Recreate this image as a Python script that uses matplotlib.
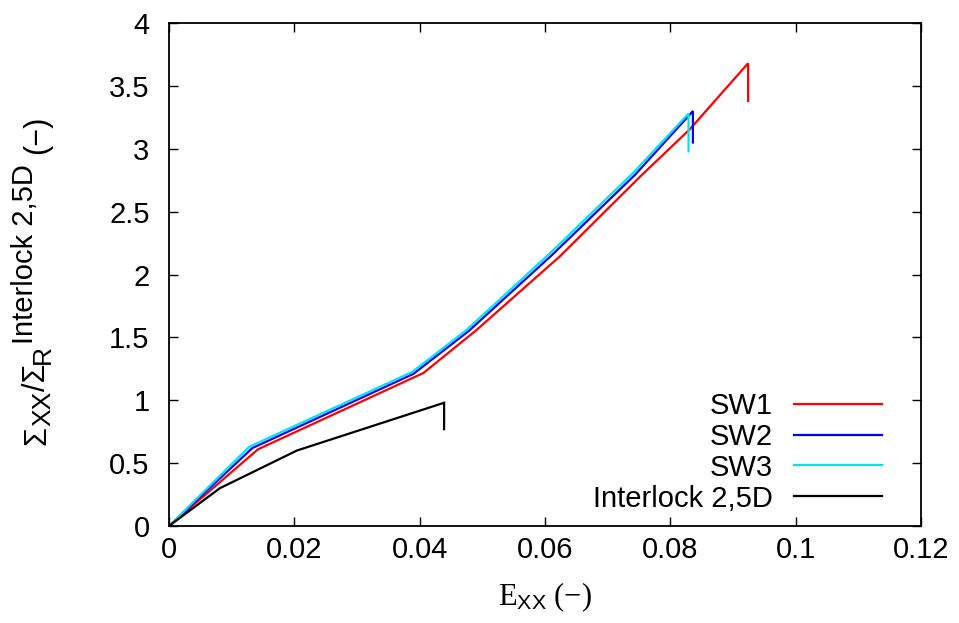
import matplotlib
matplotlib.use("Agg")
import matplotlib.pyplot as plt
from matplotlib.ticker import FuncFormatter
from matplotlib.transforms import IdentityTransform

plt.rcParams['font.family'] = ['Liberation Sans', 'DejaVu Sans']
plt.rcParams['mathtext.fontset'] = 'custom'
plt.rcParams['mathtext.rm'] = 'Liberation Serif'
plt.rcParams['mathtext.sf'] = 'Liberation Sans'
plt.rcParams['mathtext.it'] = 'Liberation Serif:italic'

# Data
sw1_x = [0.0, 0.0142, 0.0406, 0.0491, 0.0624, 0.0752, 0.0831, 0.0924, 0.0924]
sw1_y = [0.0, 0.61, 1.217, 1.56, 2.146, 2.78, 3.155, 3.68, 3.38]

sw2_x = [0.0, 0.0133, 0.0390, 0.0478, 0.0610, 0.0743, 0.0836, 0.0836]
sw2_y = [0.0, 0.62, 1.21, 1.55, 2.15, 2.79, 3.30, 3.05]

sw3_x = [0.0, 0.0128, 0.0388, 0.0475, 0.0608, 0.0741, 0.0829, 0.0829]
sw3_y = [0.0, 0.63, 1.225, 1.56, 2.17, 2.81, 3.28, 2.98]

il_x = [0.0, 0.0081, 0.0204, 0.0439, 0.0439]
il_y = [0.0, 0.30, 0.60, 0.98, 0.77]

labels = ['SW1', 'SW2', 'SW3', 'Interlock 2,5D']
colors = ['#ff0000', '#0000ff', '#00e5ee', '#000000']

FS = 21

fig = plt.figure(figsize=(9.59, 6.23), dpi=100)
ax = fig.add_axes([0.1762, 0.1557, 0.7842, 0.8073])

for (x, y), lab, c in zip([(sw1_x, sw1_y), (sw2_x, sw2_y), (sw3_x, sw3_y), (il_x, il_y)], labels, colors):
    ax.plot(x, y, color=c, lw=1.6, label=lab, solid_joinstyle='miter')

ax.set_xlim(0, 0.12)
ax.set_ylim(0, 4)
ax.set_xticks([0, 0.02, 0.04, 0.06, 0.08, 0.1, 0.12])
ax.set_yticks([0, 0.5, 1, 1.5, 2, 2.5, 3, 3.5, 4])
fmt = FuncFormatter(lambda v, p: ('%g' % round(v, 4)))
ax.xaxis.set_major_formatter(fmt)
ax.yaxis.set_major_formatter(fmt)
ax.tick_params(direction='in', length=6.5, width=1.0, labelsize=FS, top=True, right=True)
ax.tick_params(axis='x', pad=7)
ax.tick_params(axis='y', pad=14)
for s in ax.spines.values():
    s.set_linewidth(1.3)

ax.set_xlabel(r'$\mathrm{E}_{\mathsf{XX}}$ (−)', fontsize=22, family='Liberation Serif', labelpad=12)

# y label built piecewise (full-size superscript as in the reference)
LFS = 22
SFS = 19
pieces = [("Σ", LFS, 0, 0), ("XX", SFS, 5, 0), ("/Σ", LFS, 0, 0), ("R", SFS, 5, 0),
          ("Interlock 2,5D", 21, -12, 1), ("(−)", LFS, 0, 10)]
fig.canvas.draw()
renderer = fig.canvas.get_renderer()
base_x = 45
ypos = 623 - 445
for s, size, dx, gap in pieces:
    ypos += gap
    t = fig.text(base_x + dx, ypos, s, rotation=90, rotation_mode='anchor',
                 ha='left', va='baseline', fontsize=size, transform=IdentityTransform())
    bb = t.get_window_extent(renderer)
    ypos = bb.y1

leg = ax.legend(loc='lower right', frameon=False, markerfirst=False, fontsize=FS,
                handlelength=3.0, handletextpad=0.75, labelspacing=0.1,
                borderaxespad=0.3, bbox_to_anchor=(0.975, -0.014))
for t in leg.get_texts():
    t.set_ha('right')

fig.savefig('out.png', dpi=100)
